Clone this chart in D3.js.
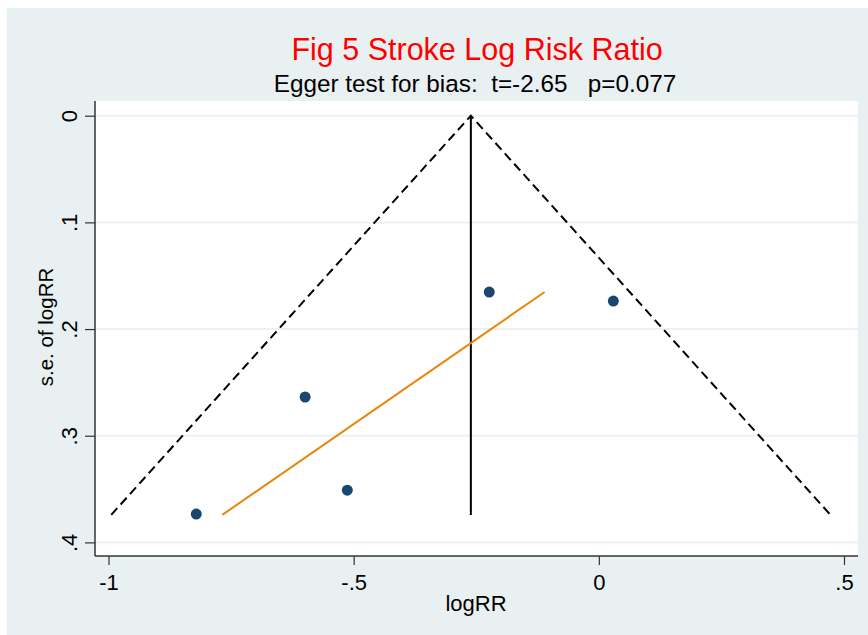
<!DOCTYPE html>
<head>
<style>
body { margin: 0; background: #fff; }
svg { display: block; font-family: "Liberation Sans", Arial, sans-serif; }
.axis .domain { stroke: #333; stroke-width: 1.5px; }
.axis .tick line { stroke: #333; stroke-width: 1.2px; }
.axis .tick text { font-size: 22px; fill: #000; }
.grid line { stroke: #eaf2f3; stroke-width: 2px; }
</style>
<script src="https://d3js.org/d3.v7.min.js"></script>
</head>
<body>
<svg width="868" height="635"></svg>
<script>
// study estimates
var logRR = [-0.821, -0.599, -0.513, -0.2235, 0.0296];
var seLogRR = [0.3734, 0.2637, 0.351, 0.1653, 0.1738];

var pooled = -0.261;      // fixed-effect estimate (vertical line)
var seMax = 0.3742;       // bottom of funnel
var eggerX = [-0.768, -0.1106];   // Egger regression line ends
var eggerSe = [0.3742, 0.1653];

var xTicks = [-1, -0.5, 0, 0.5];
var xTickLabels = ["-1", "-.5", "0", ".5"];
var yTicks = [0, 0.1, 0.2, 0.3, 0.4];
var yTickLabels = ["0", ".1", ".2", ".3", ".4"];

var svg = d3.select("svg");

// outer graph region
svg.append("rect")
    .attr("x", 7).attr("y", 8)
    .attr("width", 861).attr("height", 627)
    .attr("fill", "#e9f0f2");

var plot = {left: 95, top: 101, right: 858, bottom: 556};

svg.append("rect")
    .attr("x", plot.left).attr("y", plot.top)
    .attr("width", plot.right - plot.left).attr("height", plot.bottom - plot.top)
    .attr("fill", "#fff");

var x = d3.scaleLinear().domain([-1, 0.5]).range([108.5, 844]);
var y = d3.scaleLinear().domain([0, 0.4]).range([115.7, 542.4]);

// grid
svg.append("g")
    .attr("class", "grid")
  .selectAll("line")
  .data(yTicks)
  .enter().append("line")
    .attr("x1", plot.left).attr("x2", plot.right)
    .attr("y1", function(d) { return y(d); })
    .attr("y2", function(d) { return y(d); });

// funnel limits
var line = d3.line()
    .x(function(d) { return x(d[0]); })
    .y(function(d) { return y(d[1]); });

svg.append("path")
    .datum([[pooled - 1.96 * seMax, seMax], [pooled, 0], [pooled + 1.96 * seMax, seMax]])
    .attr("d", line)
    .attr("fill", "none")
    .attr("stroke", "#000")
    .attr("stroke-width", 2)
    .attr("stroke-dasharray", "9,5");

svg.append("path")
    .datum([[pooled, 0], [pooled, seMax]])
    .attr("d", line)
    .attr("fill", "none")
    .attr("stroke", "#000")
    .attr("stroke-width", 2);

svg.append("path")
    .datum(eggerX.map(function(v, i) { return [v, eggerSe[i]]; }))
    .attr("d", line)
    .attr("fill", "none")
    .attr("stroke", "#e8870c")
    .attr("stroke-width", 2);

svg.append("g")
  .selectAll("circle")
  .data(logRR)
  .enter().append("circle")
    .attr("cx", function(d) { return x(d); })
    .attr("cy", function(d, i) { return y(seLogRR[i]); })
    .attr("r", 5.5)
    .attr("fill", "#1a476f");

// axes
var xAxis = d3.axisBottom(x)
    .tickValues(xTicks)
    .tickFormat(function(d, i) { return xTickLabels[i]; })
    .tickSize(9)
    .tickSizeOuter(0)
    .tickPadding(9);

var gx = svg.append("g")
    .attr("class", "axis")
    .attr("transform", "translate(0," + plot.bottom + ")")
    .call(xAxis);
gx.select(".domain").attr("d", "M" + plot.left + ",0H" + plot.right);

var yAxis = d3.axisLeft(y)
    .tickValues(yTicks)
    .tickFormat(function(d, i) { return yTickLabels[i]; })
    .tickSize(10)
    .tickSizeOuter(0);

var gy = svg.append("g")
    .attr("class", "axis")
    .attr("transform", "translate(" + plot.left + ",0)")
    .call(yAxis);
gy.select(".domain").attr("d", "M0," + plot.top + "V" + plot.bottom);
gy.selectAll(".tick text")
    .attr("x", null).attr("dy", null)
    .attr("text-anchor", "middle")
    .attr("transform", "translate(-18,0) rotate(-90)");

// axis titles
svg.append("text")
    .attr("x", 476).attr("y", 611)
    .attr("text-anchor", "middle")
    .attr("font-size", 22)
    .text("logRR");

svg.append("text")
    .attr("transform", "translate(53,327) rotate(-90)")
    .attr("text-anchor", "middle")
    .attr("font-size", 20.5)
    .text("s.e. of logRR");

// titles
svg.append("text")
    .attr("x", 477).attr("y", 60)
    .attr("text-anchor", "middle")
    .attr("font-size", 30.5)
    .attr("fill", "#ff0000")
    .text("Fig 5 Stroke Log Risk Ratio");

svg.append("text")
    .attr("x", 475).attr("y", 92)
    .attr("text-anchor", "middle")
    .attr("font-size", 24.3)
    .style("white-space", "pre")
    .text("Egger test for bias:  t=-2.65   p=0.077");
</script>
</body>
